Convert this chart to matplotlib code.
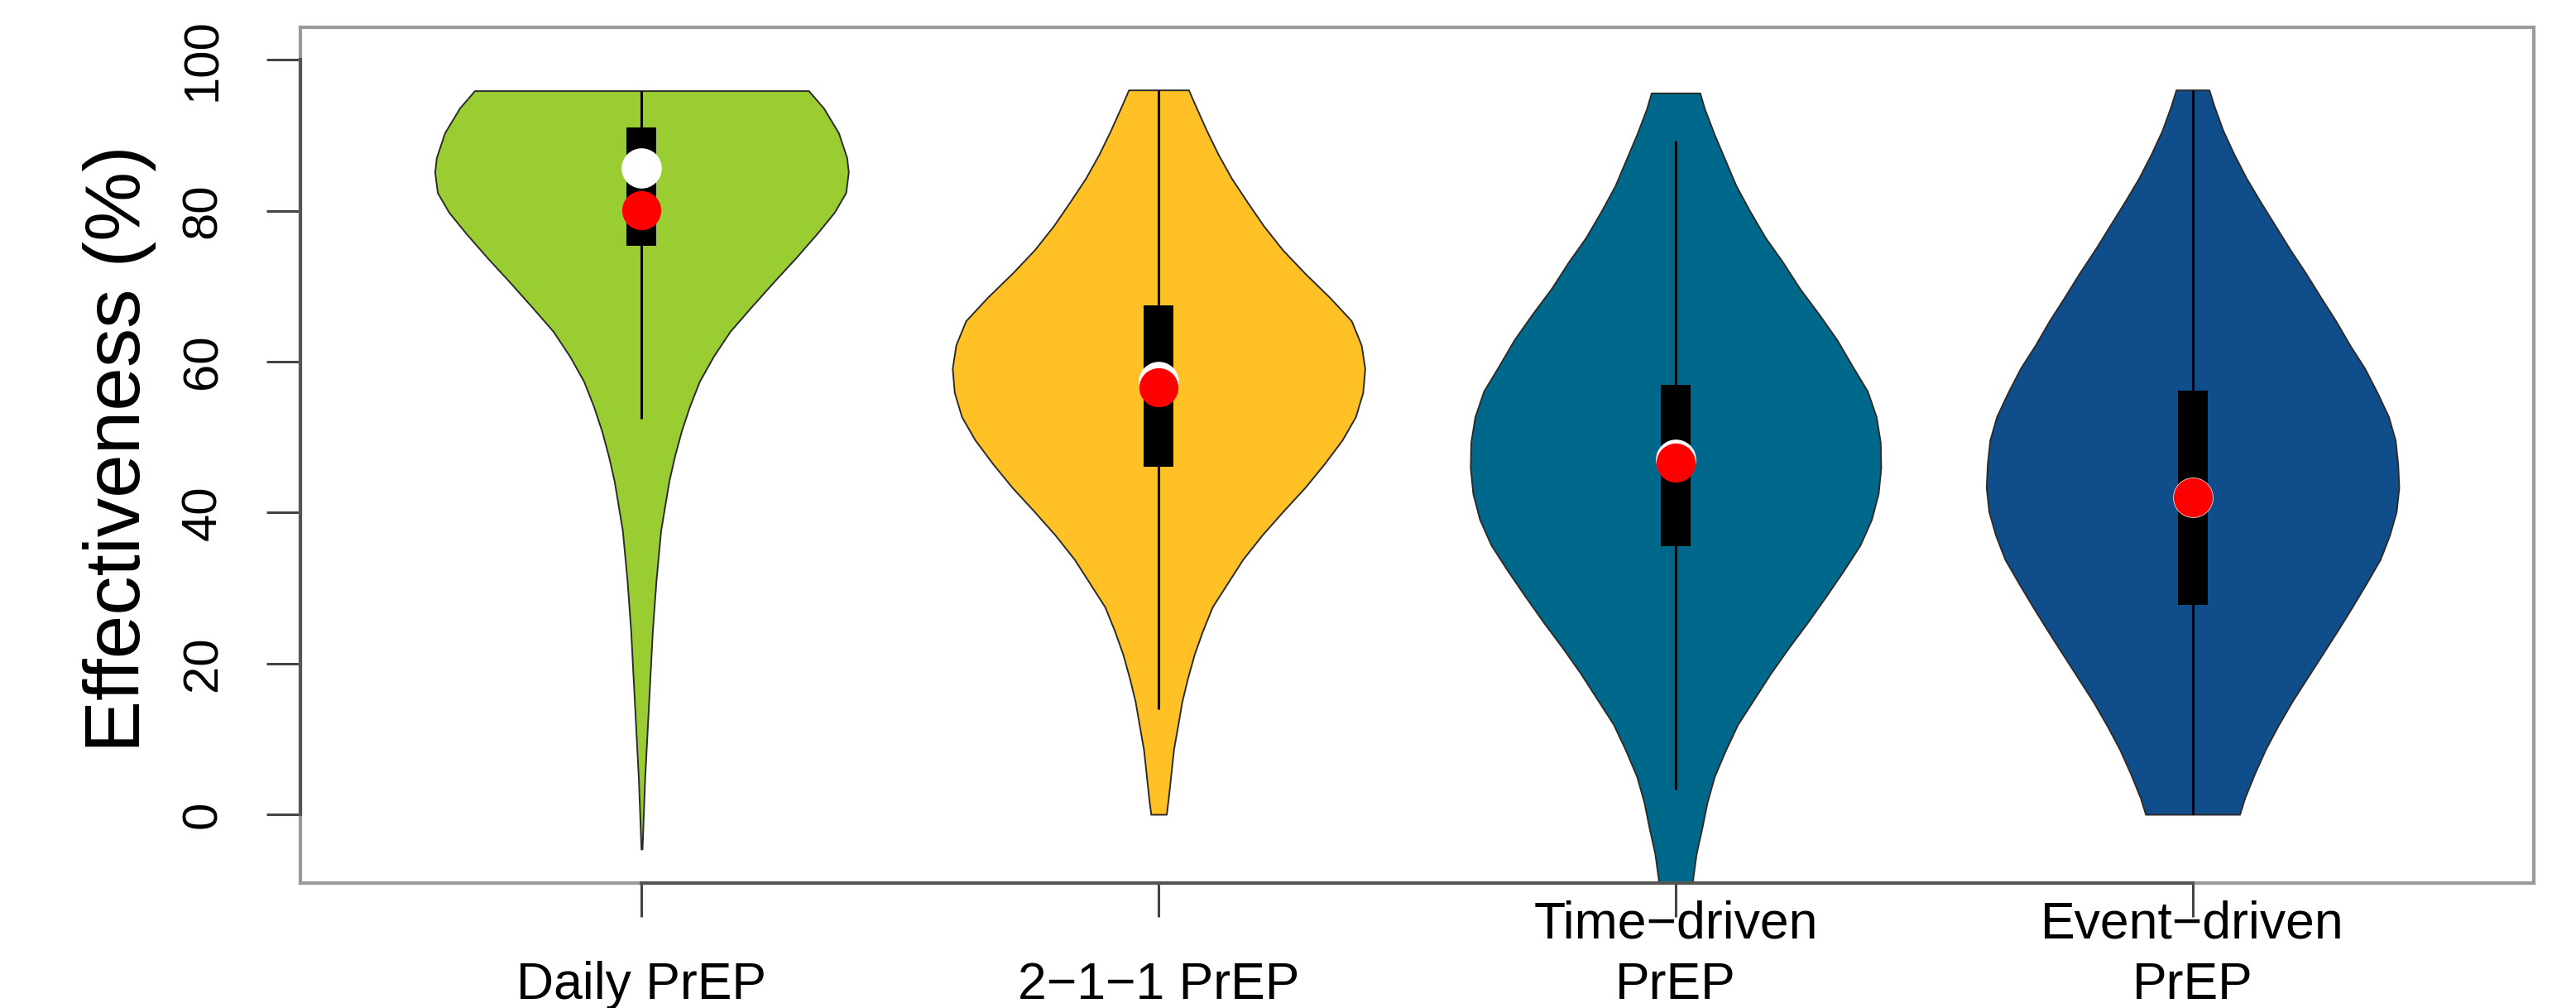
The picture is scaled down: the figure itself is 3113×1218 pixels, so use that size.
import matplotlib
matplotlib.use("Agg")
import matplotlib.pyplot as plt
import matplotlib.transforms as mtransforms
import numpy as np

plt.rcParams["font.family"] = ["Liberation Sans", "DejaVu Sans"]

# categories and colours
labels = ["Daily PrEP", "2\u22121\u22121 PrEP", "Time\u2212driven\nPrEP", "Event\u2212driven\nPrEP"]
colors = ["#9ACD32", "#FFC125", "#00688B", "#104E8B"]

# violin outlines: value level -> half width (x units)
daily_y = [95.9, 93.6, 90.3, 87.0, 85.1, 82.4, 79.8, 77.1, 73.8, 70.6, 67.3, 64.0, 60.7,
           57.4, 54.1, 50.8, 47.5, 44.2, 37.6, 31.0, 24.4, 17.8, 11.2, 4.6, -4.6]
daily_w = [0.323, 0.352, 0.381, 0.397, 0.400, 0.395, 0.373, 0.341, 0.299, 0.256, 0.213, 0.171, 0.139,
           0.112, 0.093, 0.077, 0.064, 0.053, 0.037, 0.028, 0.021, 0.016, 0.011, 0.006, 0.001]

twoone_y = [96.0, 93.8, 90.6, 87.5, 84.3, 81.2, 78.0, 74.8, 71.7, 68.5, 65.4, 62.2, 59.1, 55.9, 52.7, 49.6,
            46.4, 43.3, 40.1, 37.0, 33.8, 30.6, 27.5, 24.3, 21.2, 18.0, 14.9, 11.7, 8.6, 5.4, 2.2, 0.0]
twoone_w = [0.058, 0.072, 0.093, 0.115, 0.141, 0.171, 0.203, 0.240, 0.283, 0.331, 0.373, 0.392, 0.399,
            0.395, 0.381, 0.355, 0.320, 0.283, 0.240, 0.200, 0.163, 0.133, 0.104, 0.085, 0.069, 0.056,
            0.045, 0.037, 0.029, 0.024, 0.019, 0.015]

time_y = [95.6, 93.5, 90.1, 86.7, 83.3, 79.9, 76.5, 73.1, 69.7, 66.3, 62.9, 59.5, 56.1, 52.7, 49.3, 45.9,
          42.5, 39.1, 35.7, 32.3, 28.9, 25.5, 22.1, 18.7, 15.3, 11.9, 8.4, 5.0, 1.6, -1.8, -5.2, -9.2, -12.0]
time_w = [0.047, 0.056, 0.075, 0.096, 0.117, 0.144, 0.173, 0.208, 0.240, 0.277, 0.312, 0.341, 0.371,
          0.388, 0.396, 0.397, 0.392, 0.379, 0.357, 0.325, 0.291, 0.256, 0.219, 0.184, 0.152, 0.120,
          0.096, 0.075, 0.061, 0.051, 0.040, 0.032, 0.026]

event_y = [96.0, 93.8, 90.6, 87.5, 84.3, 81.2, 78.0, 74.8, 71.7, 68.5, 65.4, 62.2, 59.1, 55.9, 52.7, 49.6,
           46.4, 43.3, 40.1, 37.0, 33.8, 30.6, 27.5, 24.3, 21.2, 18.0, 14.9, 11.7, 8.6, 5.4, 2.2, 0.0]
event_w = [0.032, 0.042, 0.059, 0.080, 0.104, 0.131, 0.160, 0.189, 0.219, 0.248, 0.277, 0.304, 0.333,
           0.357, 0.379, 0.392, 0.397, 0.399, 0.394, 0.381, 0.363, 0.336, 0.309, 0.280, 0.251, 0.221,
           0.192, 0.165, 0.141, 0.120, 0.101, 0.091]

violin_y = [daily_y, twoone_y, time_y, event_y]
violin_w = [daily_w, twoone_w, time_w, event_w]

# box plot summaries
whisker_lo = [52.4, 13.9, 3.3, 0.0]
whisker_hi = [95.9, 96.0, 89.3, 96.0]
q1 = [75.3, 46.1, 35.5, 27.7]
q3 = [91.0, 67.4, 56.9, 56.2]
medians = [85.7, 57.4, 47.1, 42.0]
means = [80.1, 56.6, 46.6, 42.0]

yticks = [0, 20, 40, 60, 80, 100]

W, H = 3113, 1218
fig = plt.figure(figsize=(W / 100, H / 100), dpi=100)
ax = fig.add_axes([363 / W, (H - 1067) / H, (3062 - 363) / W, (1067 - 33) / H])

positions = np.arange(1, len(labels) + 1)

for pos, ys, ws, col in zip(positions, violin_y, violin_w, colors):
    ys = np.array(ys)
    ws = np.array(ws)
    ax.fill_betweenx(ys, pos - ws, pos + ws, facecolor=col, edgecolor="#2b2b2b",
                     linewidth=1.4, zorder=2)

ax.vlines(positions, whisker_lo, whisker_hi, color="black", linewidth=2.2, zorder=3)
ax.bar(positions, np.array(q3) - np.array(q1), bottom=q1, width=0.058,
       color="black", zorder=4)
ax.plot(positions, medians, "o", color="white", markersize=35, markeredgewidth=0, zorder=5)
ax.plot(positions, means, "o", color="red", markersize=34, markeredgewidth=0, zorder=6)

ax.set_xlim(0.34, 4.66)
ax.set_ylim(-9.1, 104.3)

# frame: gray box, darker axis lines over the tick range (R style)
for side in ["top", "right", "left", "bottom"]:
    ax.spines[side].set_color("#9a9a9a")
    ax.spines[side].set_linewidth(3)
ax.plot([0.34, 0.34], [yticks[0], yticks[-1]], color="#555555", linewidth=3,
        clip_on=False, zorder=7)
ax.plot([positions[0], positions[-1]], [-9.1, -9.1], color="#555555", linewidth=3,
        clip_on=False, zorder=7)

ax.set_yticks(yticks)
ax.set_yticklabels([str(v) for v in yticks], rotation=90, va="center", ha="center", fontsize=43)
ax.set_xticks(positions)
ax.set_xticklabels([])
ax.tick_params(axis="both", length=29.5, width=2.2, color="#444444")
ax.tick_params(axis="y", pad=55)

# category labels, bottom line aligned on a common baseline
trans = mtransforms.blended_transform_factory(ax.transData, fig.transFigure)
for pos, lab in zip(positions, labels):
    lines = lab.split("\n")
    for k, line in enumerate(reversed(lines)):
        ax.text(pos, 11 / H + k * 74 / H, line, transform=trans, ha="center",
                va="baseline", fontsize=45, clip_on=False)

fig.text(145 / W, (H - 542) / H, "Effectiveness (%)", rotation=90, ha="center",
         va="center", fontsize=68)

fig.savefig("out.png", dpi=100)
